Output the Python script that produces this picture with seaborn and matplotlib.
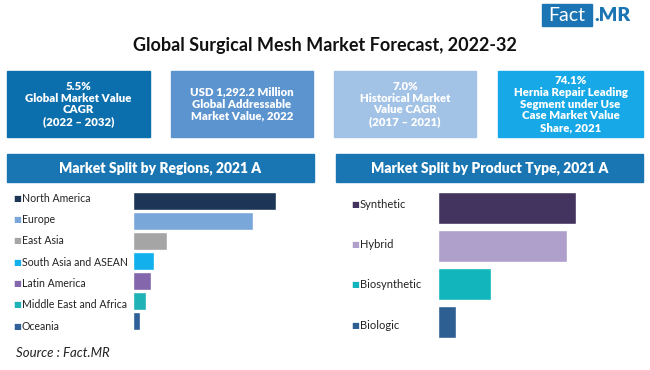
import matplotlib
matplotlib.use("Agg")
import matplotlib.pyplot as plt
import matplotlib.patches as mpatches
import matplotlib.transforms as mtrans
import seaborn as sns
import pandas as pd

# ── Data ──────────────────────────────────────────────────────────────────────
regions = ["North America", "Europe", "East Asia", "South Asia and ASEAN",
           "Latin America", "Middle East and Africa", "Oceania"]
region_share = [143, 120, 34, 21, 18, 13, 7]
region_colors = ["#1d3657", "#7aa7da", "#a5a5a5", "#12b1ee",
                 "#8466ac", "#20b3b5", "#2f6198"]

products = ["Synthetic", "Hybrid", "Biosynthetic", "Biologic"]
product_share = [138, 129, 53, 18]
product_colors = ["#43345f", "#ae9fcb", "#12b5bb", "#2d5f92"]

kpi_texts = ["5.5%\nGlobal Market Value\nCAGR\n(2022 \u2013 2032)",
             "USD 1,292.2 Million\nGlobal Addressable\nMarket Value, 2022",
             "7.0%\nHistorical Market\nValue CAGR\n(2017 \u2013 2021)",
             "74.1%\nHernia Repair Leading\nSegment under Use\nCase Market Value\nShare, 2021"]
kpi_colors = ["#0c6fad", "#5c94cf", "#a3c3e6", "#17a9e7"]

title = "Global Surgical Mesh Market Forecast, 2022-32"
left_header = "Market Split by Regions, 2021 A"
right_header = "Market Split by Product Type, 2021 A"

# ── Setup ─────────────────────────────────────────────────────────────────────
sns.set_style("white")
plt.rcParams["font.family"] = ["Lato", "DejaVu Sans"]

W, H = 650, 370
fig = plt.figure(figsize=(6.5, 3.7), dpi=100)
fig.patch.set_facecolor("white")


def fx(x):
    return x / W


def fy(y):
    return 1 - y / H


def box(x0, y0, x1, y1, color):
    fig.patches.append(mpatches.Rectangle((fx(x0), fy(y1)), fx(x1 - x0), (y1 - y0) / H,
                                          transform=fig.transFigure, color=color, zorder=0))


# logo
box(542, 4, 592, 26, "#1b74b3")
fig.text(fx(567), fy(15.5), "Fact", color="white", fontsize=14, ha="center", va="center")
fig.text(fx(594), fy(15.5), ".MR", color="#1b74b3", fontsize=14, fontweight="heavy",
         ha="left", va="center")

# title
fig.text(0.5, fy(45), title, fontsize=13, fontweight="bold", ha="center", va="center",
         color="#111111")

# KPI boxes
kpi_x = [(7, 150), (171, 313), (334, 476), (498, 643)]
for (x0, x1), txt, c in zip(kpi_x, kpi_texts, kpi_colors):
    box(x0, 71, x1, 137, c)
    fig.text(fx((x0 + x1) / 2), fy(104), txt, color="white", fontsize=8.2,
             fontweight="heavy", ha="center", va="center", linespacing=1.1)

# panel headers
box(7, 154, 314, 182, "#1a76b2")
box(336, 154, 643, 182, "#1a76b2")
fig.text(fx(160), fy(168), left_header, color="white", fontsize=10, fontweight="heavy",
         ha="center", va="center")
fig.text(fx(490), fy(168), right_header, color="white", fontsize=10, fontweight="heavy",
         ha="center", va="center")

# ── Left bars ─────────────────────────────────────────────────────────────────
axl = fig.add_axes([fx(133), fy(331), fx(160), 140 / H])
df_r = pd.DataFrame({"region": regions, "share": region_share})
sns.barplot(data=df_r, y="region", x="share", hue="region", palette=region_colors,
            width=0.88, legend=False, ax=axl, orient="h", saturation=1)
axl.set_xlim(0, 160)
axl.set_ylim(6.5, -0.5)
axl.axis("off")
tr = mtrans.blended_transform_factory(fig.transFigure, axl.transData)
for i, (name, c) in enumerate(zip(regions, region_colors)):
    yy = i * 1.07 - 0.15
    axl.text(fx(13), yy, "\u25a0", color=c, fontsize=6, va="center", transform=tr,
             family="DejaVu Sans")
    axl.text(fx(22), yy, name, color="#222222", fontsize=7.6, va="center", transform=tr)

# ── Right bars ────────────────────────────────────────────────────────────────
axr = fig.add_axes([fx(438), fy(341), fx(160), 152 / H])
df_p = pd.DataFrame({"product": products, "share": product_share})
sns.barplot(data=df_p, y="product", x="share", hue="product", palette=product_colors,
            width=0.82, legend=False, ax=axr, orient="h", saturation=1)
axr.set_xlim(0, 160)
axr.set_ylim(3.5, -0.5)
axr.axis("off")
tr = mtrans.blended_transform_factory(fig.transFigure, axr.transData)
for i, (name, c) in enumerate(zip(products, product_colors)):
    yy = i * 1.06 - 0.1
    axr.text(fx(351), yy, "\u25a0", color=c, fontsize=6, va="center", transform=tr,
             family="DejaVu Sans")
    axr.text(fx(360), yy, name, color="#222222", fontsize=8, va="center", transform=tr)

# source
fig.text(fx(16), fy(353), "Source : Fact.MR", fontsize=9.5, style="italic",
         color="#222222", va="center")

fig.savefig("out.png", dpi=100)
